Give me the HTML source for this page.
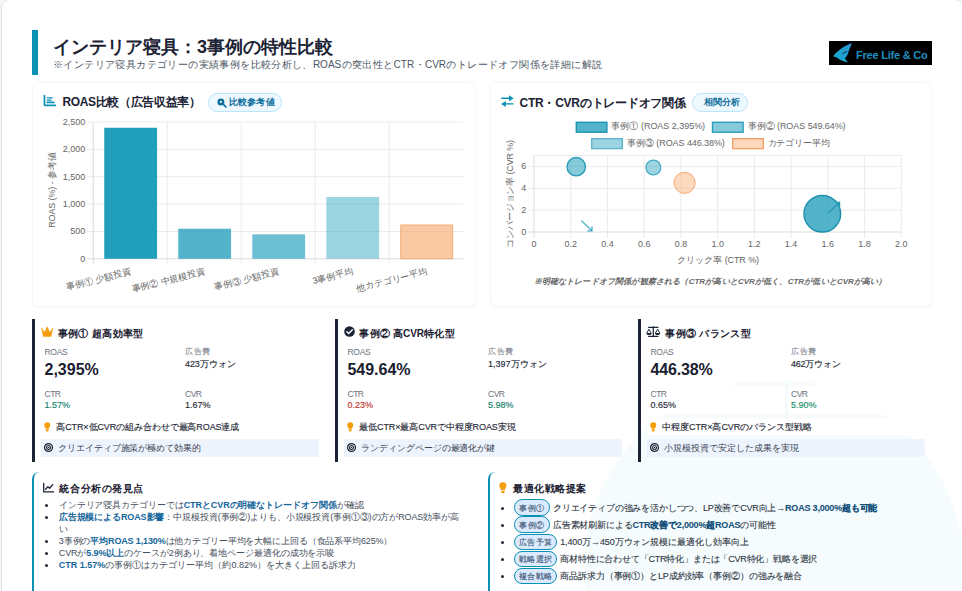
<!DOCTYPE html>
<html lang="ja">
<head>
<meta charset="utf-8">
<title>インテリア寝具：3事例の特性比較</title>
<style>
*{box-sizing:border-box;margin:0;padding:0}
html,body{width:962px;height:591px;overflow:hidden;background:#f7f7f8}
body{font-family:"Liberation Sans",sans-serif;color:#1f2937;position:relative}
.abs{position:absolute}
.t{position:absolute;white-space:nowrap;line-height:1}
.t b{font-weight:700}
#slide{position:absolute;left:1px;top:-1px;width:962.6px;height:600px;background:#fff;border:1px solid #dfe1e5;border-radius:9px}
#deco{position:absolute;left:584px;top:379px;width:380px;height:380px;border-radius:50%;background:#f6fcfd}
.card{position:absolute;top:81.5px;height:225px;background:#fff;border:1px solid #f5f6f7;border-radius:6px;box-shadow:0 1px 2px rgba(0,0,0,.03)}
.badge{position:absolute;height:18.8px;border:1px solid #bae6fd;background:#eef8ff;border-radius:9.4px}
svg{position:absolute;overflow:visible}
.cell{position:absolute;background:#fff;border-radius:3px}
.ibox{position:absolute;background:#eef4fd;border-radius:3px;height:17.6px}
.pill{position:absolute;height:16.6px;border:1.4px solid #0891b2;background:#dbeafe;border-radius:8.3px}
.dot{position:absolute;width:3px;height:3px;border-radius:50%;background:#1f2937}
</style>
</head>
<body>
<div id="slide"></div><div id="deco"></div>
<div class="abs" style="left:32px;top:30px;width:6px;height:44.5px;background:#0891b2"></div>
<div class="t" style="top:37.60px;font-size:18px;height:18px;width:280.00px;text-align:justify;text-align-last:justify;left:53.00px;color:#1a2233;font-weight:700;letter-spacing:-0.031px;">インテリア寝具：3事例の特性比較</div>
<div class="t" style="top:59.90px;font-size:10px;height:10px;width:549.00px;text-align:justify;text-align-last:justify;left:53.00px;color:#4b5563;">※インテリア寝具カテゴリーの実績事例を比較分析し、ROASの突出性とCTR・CVRのトレードオフ関係を詳細に解説</div>
<div class="abs" style="left:829px;top:41px;width:103px;height:24px;background:#000"></div>
<svg style="left:829px;top:41px" width="103" height="24" viewBox="0 0 103 24"><defs><linearGradient id="lg" x1="0" y1="1" x2="1" y2="0"><stop offset="0" stop-color="#10aecb"/><stop offset="1" stop-color="#2f90d4"/></linearGradient></defs><path d="M4.36 15.78C4.8 14 5.6 13 6.64 12.23C8.5 10.4 10.3 8.8 12.23 7.5C14 6.2 15.6 5.3 17.3 4.5C19.2 3.6 21 2.9 22.63 1.82C22.5 3.4 22 4.8 21.37 6.14C20.8 7.6 20.2 8.9 19.59 10.2C19.4 11.6 19 13 18.32 14.26C17.7 15.4 16.9 16.4 15.88 17.3L18.93 21.47C16.5 21.2 14.2 20.4 12.23 19.33C10.7 18.6 9.4 17.7 8.17 16.7C7.2 16 6.2 15.7 5.12 15.68Z" fill="url(#lg)"/><path d="M13.6 12.6L17.6 10.4" stroke="#000" stroke-width="0.7" stroke-linecap="round"/></svg>
<div class="t" style="top:49.80px;font-size:11px;height:11px;left:856.00px;color:#1f8fc0;font-weight:700;letter-spacing:-0.214px;">Free Life &amp; Co</div>
<div class="card" style="left:32px;width:443.5px"></div>
<div class="card" style="left:489.5px;width:442.5px"></div>
<svg style="left:42.8px;top:95.1px" width="13" height="12" viewBox="0 0 13 12"><path d="M1.45 0.6V9.4Q1.45 10.4 2.45 10.4H12.3" fill="none" stroke="#0891b2" stroke-width="1.7" stroke-linecap="round" stroke-linejoin="round"/><path d="M4.2 2.8H9.3M4.2 5.05H8.1" fill="none" stroke="#0891b2" stroke-width="1.15" stroke-linecap="round"/><path d="M4.3 7.4H10.8" fill="none" stroke="#0891b2" stroke-width="1.7" stroke-linecap="round"/></svg>
<div class="t" style="top:96.40px;font-size:12px;height:12px;width:138.00px;text-align:justify;text-align-last:justify;left:62.50px;color:#1a2233;font-weight:700;letter-spacing:-0.423px;">ROAS比較（広告収益率）</div>
<div class="badge" style="left:207.5px;top:92.9px;width:74.6px"></div>
<svg style="left:216.6px;top:97.8px" width="10" height="10" viewBox="0 0 10 10"><circle cx="3.9" cy="3.9" r="3.5" fill="#0e6f9c"/><circle cx="3.9" cy="3.9" r="1.1" fill="#d8ecf8"/><path d="M6.4 6.4L9 9" stroke="#0e6f9c" stroke-width="1.7" stroke-linecap="round"/></svg>
<div class="t" style="top:98.00px;font-size:9px;height:9px;width:45.20px;text-align:justify;text-align-last:justify;left:229.30px;color:#0e6f9c;font-weight:700;letter-spacing:-0.060px;">比較参考値</div>
<svg style="left:0;top:0" width="962" height="591" viewBox="0 0 962 591"><path d="M87.20 258.80H463.30" stroke="#d4d4d4" stroke-width="0.8"/><path d="M87.20 231.44H463.30" stroke="#e6e6e6" stroke-width="0.8"/><path d="M87.20 204.08H463.30" stroke="#e6e6e6" stroke-width="0.8"/><path d="M87.20 176.72H463.30" stroke="#e6e6e6" stroke-width="0.8"/><path d="M87.20 149.36H463.30" stroke="#e6e6e6" stroke-width="0.8"/><path d="M87.20 122.00H463.30" stroke="#e6e6e6" stroke-width="0.8"/><path d="M93.20 122.00V264.80" stroke="#d4d4d4" stroke-width="0.8"/><path d="M167.22 122.00V264.80" stroke="#e6e6e6" stroke-width="0.8"/><path d="M241.24 122.00V264.80" stroke="#e6e6e6" stroke-width="0.8"/><path d="M315.26 122.00V264.80" stroke="#e6e6e6" stroke-width="0.8"/><path d="M389.28 122.00V264.80" stroke="#e6e6e6" stroke-width="0.8"/><rect x="104.26" y="127.75" width="52.80" height="131.05" fill="rgba(33,158,188,1)"/><rect x="178.28" y="228.72" width="52.80" height="30.08" fill="rgba(33,158,188,0.78)"/><rect x="252.30" y="234.37" width="52.80" height="24.43" fill="rgba(33,158,188,0.66)"/><rect x="326.32" y="196.97" width="52.80" height="61.83" fill="rgba(33,158,188,0.44)"/><rect x="400.74" y="225.00" width="52.00" height="33.80" fill="rgba(244,162,97,0.58)" stroke="#f4a261" stroke-width="0.8"/></svg>
<div class="t" style="top:254.70px;font-size:9px;height:9px;right:876.70px;color:#666666;">0</div>
<div class="t" style="top:227.34px;font-size:9px;height:9px;right:876.70px;color:#666666;">500</div>
<div class="t" style="top:199.98px;font-size:9px;height:9px;right:876.70px;color:#666666;">1,000</div>
<div class="t" style="top:172.62px;font-size:9px;height:9px;right:876.70px;color:#666666;">1,500</div>
<div class="t" style="top:145.26px;font-size:9px;height:9px;right:876.70px;color:#666666;">2,000</div>
<div class="t" style="top:117.90px;font-size:9px;height:9px;right:876.70px;color:#666666;">2,500</div>
<div class="abs" style="left:52px;top:190.4px;width:0;height:0;transform:rotate(-90deg)"><div class="t" style="top:-4.50px;font-size:9px;height:9px;width:75.70px;text-align:justify;text-align-last:justify;left:-37.85px;color:#666666;letter-spacing:-0.129px;">ROAS (%) - 参考値</div></div>
<div class="abs" style="left:131.21px;top:270.50px;width:0;height:0;transform:rotate(-14.2deg)"><div class="t" style="right:0;top:-4.5px;font-size:9px;height:9px;color:#666666;width:66.5px;text-align:justify;text-align-last:justify">事例① 少額投資</div></div>
<div class="abs" style="left:205.23px;top:270.50px;width:0;height:0;transform:rotate(-14.2deg)"><div class="t" style="right:0;top:-4.5px;font-size:9px;height:9px;color:#666666;width:75.5px;text-align:justify;text-align-last:justify">事例② 中規模投資</div></div>
<div class="abs" style="left:279.25px;top:270.50px;width:0;height:0;transform:rotate(-14.2deg)"><div class="t" style="right:0;top:-4.5px;font-size:9px;height:9px;color:#666666;width:66.5px;text-align:justify;text-align-last:justify">事例③ 少額投資</div></div>
<div class="abs" style="left:353.27px;top:270.50px;width:0;height:0;transform:rotate(-14.2deg)"><div class="t" style="right:0;top:-4.5px;font-size:9px;height:9px;color:#666666;width:41.5px;text-align:justify;text-align-last:justify">3事例平均</div></div>
<div class="abs" style="left:427.29px;top:270.50px;width:0;height:0;transform:rotate(-14.2deg)"><div class="t" style="right:0;top:-4.5px;font-size:9px;height:9px;color:#666666;width:72.5px;text-align:justify;text-align-last:justify">他カテゴリー平均</div></div>
<svg style="left:501.3px;top:95.3px" width="13" height="12.2" viewBox="0 0 13 12.2"><path d="M0.3 3.2H9.5M3.5 8.9H12.5" stroke="#0891b2" stroke-width="1.4" fill="none"/><path d="M8 0.2L12.7 3.2L8 6.2Z" fill="#0891b2"/><path d="M4.8 5.9L0.1 8.9L4.8 11.9Z" fill="#0891b2"/></svg>
<div class="t" style="top:96.60px;font-size:12px;height:12px;width:166.00px;text-align:justify;text-align-last:justify;left:519.60px;color:#1a2233;font-weight:700;letter-spacing:-0.281px;">CTR・CVRのトレードオフ関係</div>
<div class="badge" style="left:692px;top:92.9px;width:56px"></div>
<div class="t" style="top:98.10px;font-size:9px;height:9px;width:36.20px;text-align:justify;text-align-last:justify;left:704.10px;color:#0e6f9c;font-weight:700;letter-spacing:-0.075px;">相関分析</div>
<svg style="left:0;top:0" width="962" height="591" viewBox="0 0 962 591"><path d="M534.00 155.50V238.00" stroke="#d4d4d4" stroke-width="0.8"/><path d="M570.73 155.50V238.00" stroke="#e6e6e6" stroke-width="0.8"/><path d="M607.46 155.50V238.00" stroke="#e6e6e6" stroke-width="0.8"/><path d="M644.19 155.50V238.00" stroke="#e6e6e6" stroke-width="0.8"/><path d="M680.92 155.50V238.00" stroke="#e6e6e6" stroke-width="0.8"/><path d="M717.65 155.50V238.00" stroke="#e6e6e6" stroke-width="0.8"/><path d="M754.38 155.50V238.00" stroke="#e6e6e6" stroke-width="0.8"/><path d="M791.11 155.50V238.00" stroke="#e6e6e6" stroke-width="0.8"/><path d="M827.84 155.50V238.00" stroke="#e6e6e6" stroke-width="0.8"/><path d="M864.57 155.50V238.00" stroke="#e6e6e6" stroke-width="0.8"/><path d="M901.30 155.50V238.00" stroke="#e6e6e6" stroke-width="0.8"/><path d="M528.00 232.00H901.30" stroke="#d4d4d4" stroke-width="0.8"/><path d="M528.00 210.14H901.30" stroke="#e6e6e6" stroke-width="0.8"/><path d="M528.00 188.29H901.30" stroke="#e6e6e6" stroke-width="0.8"/><path d="M528.00 166.43H901.30" stroke="#e6e6e6" stroke-width="0.8"/><path d="M534.00 155.50H901.30" stroke="#e6e6e6" stroke-width="0.8"/><circle cx="822.33" cy="213.75" r="18.3" fill="rgba(33,158,188,0.78)" stroke="#1b8fae" stroke-width="1.4"/><circle cx="576.24" cy="166.65" r="9.2" fill="rgba(33,158,188,0.55)" stroke="#2a9cb9" stroke-width="1.4"/><circle cx="653.37" cy="167.52" r="7.4" fill="rgba(33,158,188,0.44)" stroke="#45abc5" stroke-width="1.3"/><circle cx="684.59" cy="182.82" r="10.6" fill="rgba(250,170,110,0.45)" stroke="#f4a06a" stroke-width="0.9"/><path d="M581.3 220.6L592 230.8M592 226.2V230.8H587.4" stroke="#3fa9c4" stroke-width="1.2" fill="none"/><path d="M828.3 213L838.6 203.3" stroke="#2596b4" stroke-width="1.2" fill="none"/><path d="M835 201.8H840.2V207Z" fill="#2596b4"/><rect x="576.30" y="122.30" width="30.6" height="9.9" fill="rgba(33,158,188,0.78)" stroke="#1e95b3" stroke-width="1.4"/><rect x="712.50" y="122.30" width="30.6" height="9.9" fill="rgba(33,158,188,0.55)" stroke="#2a9cb9" stroke-width="1.4"/><rect x="591.70" y="138.70" width="30.6" height="9.9" fill="rgba(33,158,188,0.44)" stroke="#5fb6cd" stroke-width="1.4"/><rect x="732.70" y="138.70" width="30.6" height="9.9" fill="rgba(250,170,110,0.45)" stroke="#f4a06a" stroke-width="1.4"/></svg>
<div class="t" style="top:122.40px;font-size:9px;height:9px;width:93.80px;text-align:justify;text-align-last:justify;left:611.30px;color:#666666;letter-spacing:-0.041px;">事例① (ROAS 2,395%)</div>
<div class="t" style="top:122.40px;font-size:9px;height:9px;width:98.00px;text-align:justify;text-align-last:justify;left:747.50px;color:#666666;letter-spacing:-0.083px;">事例② (ROAS 549.64%)</div>
<div class="t" style="top:138.80px;font-size:9px;height:9px;width:98.00px;text-align:justify;text-align-last:justify;left:626.80px;color:#666666;letter-spacing:-0.083px;">事例③ (ROAS 446.38%)</div>
<div class="t" style="top:138.80px;font-size:9px;height:9px;width:62.50px;text-align:justify;text-align-last:justify;left:767.50px;color:#666666;letter-spacing:-0.143px;">カテゴリー平均</div>
<div class="t" style="top:227.90px;font-size:9px;height:9px;right:435.70px;color:#666666;">0</div>
<div class="t" style="top:206.04px;font-size:9px;height:9px;right:435.70px;color:#666666;">2</div>
<div class="t" style="top:184.19px;font-size:9px;height:9px;right:435.70px;color:#666666;">4</div>
<div class="t" style="top:162.33px;font-size:9px;height:9px;right:435.70px;color:#666666;">6</div>
<div class="t" style="top:240.40px;font-size:9px;height:9px;left:334.00px;width:400px;text-align:center;color:#666666;">0</div>
<div class="t" style="top:240.40px;font-size:9px;height:9px;left:370.73px;width:400px;text-align:center;color:#666666;">0.2</div>
<div class="t" style="top:240.40px;font-size:9px;height:9px;left:407.46px;width:400px;text-align:center;color:#666666;">0.4</div>
<div class="t" style="top:240.40px;font-size:9px;height:9px;left:444.19px;width:400px;text-align:center;color:#666666;">0.6</div>
<div class="t" style="top:240.40px;font-size:9px;height:9px;left:480.92px;width:400px;text-align:center;color:#666666;">0.8</div>
<div class="t" style="top:240.40px;font-size:9px;height:9px;left:517.65px;width:400px;text-align:center;color:#666666;">1.0</div>
<div class="t" style="top:240.40px;font-size:9px;height:9px;left:554.38px;width:400px;text-align:center;color:#666666;">1.2</div>
<div class="t" style="top:240.40px;font-size:9px;height:9px;left:591.11px;width:400px;text-align:center;color:#666666;">1.4</div>
<div class="t" style="top:240.40px;font-size:9px;height:9px;left:627.84px;width:400px;text-align:center;color:#666666;">1.6</div>
<div class="t" style="top:240.40px;font-size:9px;height:9px;left:664.57px;width:400px;text-align:center;color:#666666;">1.8</div>
<div class="t" style="top:240.40px;font-size:9px;height:9px;left:701.30px;width:400px;text-align:center;color:#666666;">2.0</div>
<div class="t" style="top:256.30px;font-size:9px;height:9px;width:82.00px;text-align:justify;text-align-last:justify;left:677.00px;color:#666666;letter-spacing:-0.115px;">クリック率 (CTR %)</div>
<div class="abs" style="left:509.8px;top:193.6px;width:0;height:0;transform:rotate(-90deg)"><div class="t" style="top:-4.50px;font-size:9px;height:9px;width:107.60px;text-align:justify;text-align-last:justify;left:-53.80px;color:#666666;letter-spacing:-0.181px;">コンバージョン率 (CVR %)</div></div>
<div class="t" style="top:278.30px;font-size:8px;height:8px;width:353.00px;text-align:justify;text-align-last:justify;left:533.50px;color:#666;font-weight:700;font-style:italic;">※明確なトレードオフ関係が観察される（CTRが高いとCVRが低く、CTRが低いとCVRが高い）</div>
<div class="abs" style="left:32px;top:319.2px;width:3px;height:143.3px;background:#1b2435"></div>
<div class="cell" style="left:41.25px;top:343.5px;width:137.5px;height:38.5px"></div>
<div class="cell" style="left:181.75px;top:343.5px;width:137.5px;height:38.5px"></div>
<div class="cell" style="left:41.25px;top:385px;width:137.5px;height:29.5px"></div>
<div class="cell" style="left:181.75px;top:385px;width:137.5px;height:29.5px"></div>
<div class="cell" style="left:41.25px;top:417.5px;width:278px;height:17.5px"></div>
<svg style="left:40.70px;top:327.10px" width="12.4" height="9.8" viewBox="0 0 12.4 9.8"><path d="M0.9 2.6L2.3 9.5H10.1L11.5 2.6L8.5 4.9L6.9 1.2H5.5L3.9 4.9Z" fill="#f59e0b" stroke="#f59e0b" stroke-width=".5" stroke-linejoin="round"/><circle cx="0.9" cy="2.1" r=".85" fill="#f59e0b"/><circle cx="6.2" cy="0.95" r=".9" fill="#f59e0b"/><circle cx="11.5" cy="2.1" r=".85" fill="#f59e0b"/></svg>
<div class="t" style="top:328.70px;font-size:10px;height:10px;width:85.70px;text-align:justify;text-align-last:justify;left:57.70px;color:#1a2030;font-weight:700;">事例① 超高効率型</div>
<div class="t" style="top:347.90px;font-size:8.6px;height:8.6px;left:44.50px;color:#6b7280;letter-spacing:-0.375px;">ROAS</div>
<div class="t" style="top:361.60px;font-size:16px;height:16px;left:44.50px;color:#1a2030;font-weight:700;">2,395%</div>
<div class="t" style="top:348.20px;font-size:8px;height:8px;width:25.00px;text-align:justify;text-align-last:justify;left:185.00px;color:#6b7280;">広告費</div>
<div class="t" style="top:359.70px;font-size:9px;height:9px;width:51.00px;text-align:justify;text-align-last:justify;left:185.00px;color:#1f2937;letter-spacing:-0.071px;-webkit-text-stroke:0.14px currentColor;">423万ウォン</div>
<div class="t" style="top:389.60px;font-size:8.6px;height:8.6px;left:44.50px;color:#6b7280;letter-spacing:-0.567px;">CTR</div>
<div class="t" style="top:401.40px;font-size:9px;height:9px;left:44.50px;color:#12806f;-webkit-text-stroke:0.14px currentColor;">1.57%</div>
<div class="t" style="top:389.60px;font-size:8.6px;height:8.6px;left:185.00px;color:#6b7280;letter-spacing:-0.567px;">CVR</div>
<div class="t" style="top:401.40px;font-size:9px;height:9px;left:185.00px;color:#1f2937;-webkit-text-stroke:0.14px currentColor;">1.67%</div>
<svg style="left:43.90px;top:421.80px" width="6.48" height="9.72" viewBox="0 0 6 9"><path d="M3 0.2A2.8 2.8 0 0 0 0.2 3C0.2 4.3 1.2 4.9 1.5 6.2H4.5C4.8 4.9 5.8 4.3 5.8 3A2.8 2.8 0 0 0 3 0.2Z" fill="#f59e0b"/><path d="M1.6 6.8H4.4V7.6C4.4 8.3 3.8 8.8 3 8.8C2.2 8.8 1.6 8.3 1.6 7.6Z" fill="#f59e0b"/></svg>
<div class="t" style="top:422.80px;font-size:9px;height:9px;width:183.00px;text-align:justify;text-align-last:justify;left:56.25px;color:#1f2937;letter-spacing:-0.104px;-webkit-text-stroke:0.14px currentColor;">高CTR×低CVRの組み合わせで最高ROAS達成</div>
<div class="ibox" style="left:41.25px;top:439.3px;width:278.2px"></div>
<svg style="left:44.20px;top:443.40px" width="9" height="9" viewBox="0 0 9 9"><circle cx="4.5" cy="4.5" r="3.95" fill="none" stroke="#1b2435" stroke-width="1.25"/><circle cx="4.5" cy="4.5" r="1.95" fill="none" stroke="#1b2435" stroke-width="1.1"/><circle cx="4.5" cy="4.5" r=".75" fill="#1b2435"/></svg>
<div class="t" style="top:443.50px;font-size:9px;height:9px;width:142.50px;text-align:justify;text-align-last:justify;left:58.20px;color:#374151;letter-spacing:-0.125px;">クリエイティブ施策が極めて効果的</div>
<div class="abs" style="left:335px;top:319.2px;width:3px;height:143.3px;background:#1b2435"></div>
<div class="cell" style="left:344.25px;top:343.5px;width:137.5px;height:38.5px"></div>
<div class="cell" style="left:484.75px;top:343.5px;width:137.5px;height:38.5px"></div>
<div class="cell" style="left:344.25px;top:385px;width:137.5px;height:29.5px"></div>
<div class="cell" style="left:484.75px;top:385px;width:137.5px;height:29.5px"></div>
<div class="cell" style="left:344.25px;top:417.5px;width:278px;height:17.5px"></div>
<svg style="left:343.90px;top:326.30px" width="11" height="11" viewBox="0 0 11 11"><circle cx="5.5" cy="5.5" r="5.3" fill="#1b2435"/><path d="M2.9 5.7L4.7 7.5L8.2 3.9" stroke="#fff" stroke-width="1.5" fill="none" stroke-linecap="round" stroke-linejoin="round"/></svg>
<div class="t" style="top:328.70px;font-size:10px;height:10px;width:95.20px;text-align:justify;text-align-last:justify;left:359.40px;color:#1a2030;font-weight:700;">事例② 高CVR特化型</div>
<div class="t" style="top:347.90px;font-size:8.6px;height:8.6px;left:347.50px;color:#6b7280;letter-spacing:-0.375px;">ROAS</div>
<div class="t" style="top:361.60px;font-size:16px;height:16px;left:347.50px;color:#1a2030;font-weight:700;letter-spacing:-0.029px;">549.64%</div>
<div class="t" style="top:348.20px;font-size:8px;height:8px;width:25.00px;text-align:justify;text-align-last:justify;left:488.00px;color:#6b7280;">広告費</div>
<div class="t" style="top:359.70px;font-size:9px;height:9px;width:59.20px;text-align:justify;text-align-last:justify;left:488.00px;color:#1f2937;letter-spacing:-0.033px;-webkit-text-stroke:0.14px currentColor;">1,397万ウォン</div>
<div class="t" style="top:389.60px;font-size:8.6px;height:8.6px;left:347.50px;color:#6b7280;letter-spacing:-0.567px;">CTR</div>
<div class="t" style="top:401.40px;font-size:9px;height:9px;left:347.50px;color:#c0342c;-webkit-text-stroke:0.14px currentColor;">0.23%</div>
<div class="t" style="top:389.60px;font-size:8.6px;height:8.6px;left:488.00px;color:#6b7280;letter-spacing:-0.567px;">CVR</div>
<div class="t" style="top:401.40px;font-size:9px;height:9px;left:488.00px;color:#15806a;-webkit-text-stroke:0.14px currentColor;">5.98%</div>
<svg style="left:346.90px;top:421.80px" width="6.48" height="9.72" viewBox="0 0 6 9"><path d="M3 0.2A2.8 2.8 0 0 0 0.2 3C0.2 4.3 1.2 4.9 1.5 6.2H4.5C4.8 4.9 5.8 4.3 5.8 3A2.8 2.8 0 0 0 3 0.2Z" fill="#f59e0b"/><path d="M1.6 6.8H4.4V7.6C4.4 8.3 3.8 8.8 3 8.8C2.2 8.8 1.6 8.3 1.6 7.6Z" fill="#f59e0b"/></svg>
<div class="t" style="top:422.80px;font-size:9px;height:9px;width:156.30px;text-align:justify;text-align-last:justify;left:359.25px;color:#1f2937;letter-spacing:-0.105px;-webkit-text-stroke:0.14px currentColor;">最低CTR×最高CVRで中程度ROAS実現</div>
<div class="ibox" style="left:344.25px;top:439.3px;width:278.2px"></div>
<svg style="left:347.20px;top:443.40px" width="9" height="9" viewBox="0 0 9 9"><circle cx="4.5" cy="4.5" r="3.95" fill="none" stroke="#1b2435" stroke-width="1.25"/><circle cx="4.5" cy="4.5" r="1.95" fill="none" stroke="#1b2435" stroke-width="1.1"/><circle cx="4.5" cy="4.5" r=".75" fill="#1b2435"/></svg>
<div class="t" style="top:443.50px;font-size:9px;height:9px;width:134.00px;text-align:justify;text-align-last:justify;left:361.20px;color:#374151;letter-spacing:-0.100px;">ランディングページの最適化が鍵</div>
<div class="abs" style="left:638px;top:319.2px;width:3px;height:143.3px;background:#1b2435"></div>
<div class="cell" style="left:647.25px;top:343.5px;width:137.5px;height:38.5px"></div>
<div class="cell" style="left:787.75px;top:343.5px;width:137.5px;height:38.5px"></div>
<div class="cell" style="left:647.25px;top:385px;width:137.5px;height:29.5px"></div>
<div class="cell" style="left:787.75px;top:385px;width:137.5px;height:29.5px"></div>
<div class="cell" style="left:647.25px;top:417.5px;width:278px;height:17.5px"></div>
<svg style="left:646.00px;top:326.00px" width="14.4" height="11.2" viewBox="0 0 14.4 11.2"><path d="M7.3 0.6V10.2M2.7 10.5H11.9M2.7 1.5H11.9" stroke="#1b2435" stroke-width="1.25" fill="none" stroke-linecap="round"/><path d="M0.9 7L3.0 3.2L5.1 7M9.5 7L11.6 3.2L13.7 7" stroke="#1b2435" stroke-width="1.0" fill="none" stroke-linejoin="round"/><path d="M0.3 6.9H5.7C5.7 8.2 4.5 9 3 9C1.5 9 0.3 8.2 0.3 6.9ZM8.9 6.9H14.3C14.3 8.2 13.1 9 11.6 9C10.1 9 8.9 8.2 8.9 6.9Z" fill="#1b2435"/></svg>
<div class="t" style="top:328.70px;font-size:10px;height:10px;width:85.50px;text-align:justify;text-align-last:justify;left:665.30px;color:#1a2030;font-weight:700;">事例③ バランス型</div>
<div class="t" style="top:347.90px;font-size:8.6px;height:8.6px;left:650.50px;color:#6b7280;letter-spacing:-0.375px;">ROAS</div>
<div class="t" style="top:361.60px;font-size:16px;height:16px;left:650.50px;color:#1a2030;font-weight:700;letter-spacing:-0.143px;">446.38%</div>
<div class="t" style="top:348.20px;font-size:8px;height:8px;width:25.00px;text-align:justify;text-align-last:justify;left:791.00px;color:#6b7280;">広告費</div>
<div class="t" style="top:359.70px;font-size:9px;height:9px;width:50.00px;text-align:justify;text-align-last:justify;left:791.00px;color:#1f2937;letter-spacing:-0.214px;-webkit-text-stroke:0.14px currentColor;">462万ウォン</div>
<div class="t" style="top:389.60px;font-size:8.6px;height:8.6px;left:650.50px;color:#6b7280;letter-spacing:-0.567px;">CTR</div>
<div class="t" style="top:401.40px;font-size:9px;height:9px;left:650.50px;color:#1f2937;-webkit-text-stroke:0.14px currentColor;">0.65%</div>
<div class="t" style="top:389.60px;font-size:8.6px;height:8.6px;left:791.00px;color:#6b7280;letter-spacing:-0.567px;">CVR</div>
<div class="t" style="top:401.40px;font-size:9px;height:9px;left:791.00px;color:#15906a;-webkit-text-stroke:0.14px currentColor;">5.90%</div>
<svg style="left:649.90px;top:421.80px" width="6.48" height="9.72" viewBox="0 0 6 9"><path d="M3 0.2A2.8 2.8 0 0 0 0.2 3C0.2 4.3 1.2 4.9 1.5 6.2H4.5C4.8 4.9 5.8 4.3 5.8 3A2.8 2.8 0 0 0 3 0.2Z" fill="#f59e0b"/><path d="M1.6 6.8H4.4V7.6C4.4 8.3 3.8 8.8 3 8.8C2.2 8.8 1.6 8.3 1.6 7.6Z" fill="#f59e0b"/></svg>
<div class="t" style="top:422.80px;font-size:9px;height:9px;width:149.40px;text-align:justify;text-align-last:justify;left:662.25px;color:#1f2937;letter-spacing:-0.111px;-webkit-text-stroke:0.14px currentColor;">中程度CTR×高CVRのバランス型戦略</div>
<div class="ibox" style="left:647.25px;top:439.3px;width:278.2px"></div>
<svg style="left:650.20px;top:443.40px" width="9" height="9" viewBox="0 0 9 9"><circle cx="4.5" cy="4.5" r="3.95" fill="none" stroke="#1b2435" stroke-width="1.25"/><circle cx="4.5" cy="4.5" r="1.95" fill="none" stroke="#1b2435" stroke-width="1.1"/><circle cx="4.5" cy="4.5" r=".75" fill="#1b2435"/></svg>
<div class="t" style="top:443.50px;font-size:9px;height:9px;width:135.00px;text-align:justify;text-align-last:justify;left:664.20px;color:#374151;letter-spacing:-0.033px;">小規模投資で安定した成果を実現</div>
<div class="abs" style="left:32px;top:471.8px;width:60px;height:125px;border-left:2.3px solid #0891b2;border-radius:7px"></div>
<div class="abs" style="left:488.4px;top:471.8px;width:60px;height:125px;border-left:2.3px solid #0891b2;border-radius:7px"></div>
<svg style="left:43px;top:483.4px" width="11" height="10" viewBox="0 0 11 10"><path d="M0.7 0.4V8.9H10.6" fill="none" stroke="#1b2435" stroke-width="1.3" stroke-linecap="round" stroke-linejoin="round"/><path d="M2.6 6.2L4.9 3.6L6.6 5.2L9.8 1.6" fill="none" stroke="#1b2435" stroke-width="1.3" stroke-linecap="round" stroke-linejoin="round"/></svg>
<div class="t" style="top:484.20px;font-size:10px;height:10px;width:84.00px;text-align:justify;text-align-last:justify;left:59.40px;color:#1a2030;font-weight:700;">統合分析の発見点</div>
<div class="dot" style="left:45.1px;top:503.90px"></div>
<div class="t" style="top:500.70px;font-size:9px;height:9px;width:304.70px;text-align:justify;text-align-last:justify;left:58.75px;color:#444d5b;letter-spacing:-0.106px;">インテリア寝具カテゴリーでは<b style="color:#15669a">CTRとCVRの明確なトレードオフ関係</b>が確認</div>
<div class="dot" style="left:45.1px;top:515.70px"></div>
<div class="t" style="top:512.50px;font-size:9px;height:9px;width:400.00px;text-align:justify;text-align-last:justify;left:58.75px;color:#444d5b;letter-spacing:-0.130px;"><b style="color:#15669a">広告規模によるROAS影響</b>：中規模投資(事例②)よりも、小規模投資(事例①③)の方がROAS効率が高</div>
<div class="t" style="top:524.50px;font-size:9px;height:9px;left:58.75px;color:#444d5b;">い</div>
<div class="dot" style="left:45.1px;top:540.00px"></div>
<div class="t" style="top:536.80px;font-size:9px;height:9px;width:333.50px;text-align:justify;text-align-last:justify;left:58.75px;color:#444d5b;letter-spacing:-0.136px;">3事例の<b style="color:#15669a">平均ROAS 1,130%</b>は他カテゴリー平均を大幅に上回る（食品系平均625%）</div>
<div class="dot" style="left:45.1px;top:551.90px"></div>
<div class="t" style="top:548.70px;font-size:9px;height:9px;width:275.40px;text-align:justify;text-align-last:justify;left:58.75px;color:#444d5b;letter-spacing:-0.121px;">CVRが<b style="color:#15669a">5.9%以上</b>のケースが2例あり、着地ページ最適化の成功を示唆</div>
<div class="dot" style="left:45.1px;top:563.90px"></div>
<div class="t" style="top:560.70px;font-size:9px;height:9px;width:297.40px;text-align:justify;text-align-last:justify;left:58.75px;color:#444d5b;"><b style="color:#15669a">CTR 1.57%</b>の事例①はカテゴリー平均（約0.82%）を大きく上回る訴求力</div>
<svg style="left:499.00px;top:481.80px" width="7.74" height="11.61" viewBox="0 0 6 9"><path d="M3 0.2A2.8 2.8 0 0 0 0.2 3C0.2 4.3 1.2 4.9 1.5 6.2H4.5C4.8 4.9 5.8 4.3 5.8 3A2.8 2.8 0 0 0 3 0.2Z" fill="#f59e0b"/><path d="M1.6 6.8H4.4V7.6C4.4 8.3 3.8 8.8 3 8.8C2.2 8.8 1.6 8.3 1.6 7.6Z" fill="#f59e0b"/></svg>
<div class="t" style="top:484.20px;font-size:10px;height:10px;width:73.30px;text-align:justify;text-align-last:justify;left:513.00px;color:#1a2030;font-weight:700;">最適化戦略提案</div>
<div class="dot" style="left:501px;top:506.90px"></div>
<div class="pill" style="left:513.8px;top:499.40px;width:36.2px"></div>
<div class="t" style="top:504.50px;font-size:8px;height:8px;width:25.00px;text-align:justify;text-align-last:justify;left:519.40px;color:#3f5a78;-webkit-text-stroke:0.14px currentColor;">事例①</div>
<div class="t" style="top:503.70px;font-size:9px;height:9px;width:324.30px;text-align:justify;text-align-last:justify;left:553.00px;color:#2b3442;letter-spacing:-0.191px;-webkit-text-stroke:0.1px currentColor;">クリエイティブの強みを活かしつつ、LP改善でCVR向上→<b style="color:#14507a">ROAS 3,000%超も可能</b></div>
<div class="dot" style="left:501px;top:523.90px"></div>
<div class="pill" style="left:513.8px;top:516.40px;width:36.2px"></div>
<div class="t" style="top:521.50px;font-size:8px;height:8px;width:25.00px;text-align:justify;text-align-last:justify;left:519.40px;color:#3f5a78;-webkit-text-stroke:0.14px currentColor;">事例②</div>
<div class="t" style="top:520.70px;font-size:9px;height:9px;width:222.60px;text-align:justify;text-align-last:justify;left:553.00px;color:#2b3442;letter-spacing:-0.197px;-webkit-text-stroke:0.1px currentColor;">広告素材刷新による<b style="color:#14507a">CTR改善で2,000%超ROAS</b>の可能性</div>
<div class="dot" style="left:501px;top:541.00px"></div>
<div class="pill" style="left:513.8px;top:533.50px;width:43.4px"></div>
<div class="t" style="top:538.60px;font-size:8px;height:8px;width:33.20px;text-align:justify;text-align-last:justify;left:518.90px;color:#3f5a78;-webkit-text-stroke:0.14px currentColor;">広告予算</div>
<div class="t" style="top:537.80px;font-size:9px;height:9px;width:188.30px;text-align:justify;text-align-last:justify;left:560.20px;color:#2b3442;letter-spacing:-0.128px;-webkit-text-stroke:0.1px currentColor;">1,400万→450万ウォン規模に最適化し効率向上</div>
<div class="dot" style="left:501px;top:558.00px"></div>
<div class="pill" style="left:513.8px;top:550.50px;width:43.4px"></div>
<div class="t" style="top:555.60px;font-size:8px;height:8px;width:33.20px;text-align:justify;text-align-last:justify;left:518.90px;color:#3f5a78;-webkit-text-stroke:0.14px currentColor;">戦略選択</div>
<div class="t" style="top:554.80px;font-size:9px;height:9px;width:257.00px;text-align:justify;text-align-last:justify;left:560.20px;color:#2b3442;letter-spacing:-0.210px;-webkit-text-stroke:0.1px currentColor;">商材特性に合わせて「CTR特化」または「CVR特化」戦略を選択</div>
<div class="dot" style="left:501px;top:575.20px"></div>
<div class="pill" style="left:513.8px;top:567.70px;width:43.4px"></div>
<div class="t" style="top:572.80px;font-size:8px;height:8px;width:33.20px;text-align:justify;text-align-last:justify;left:518.90px;color:#3f5a78;-webkit-text-stroke:0.14px currentColor;">複合戦略</div>
<div class="t" style="top:572.00px;font-size:9px;height:9px;width:241.90px;text-align:justify;text-align-last:justify;left:560.20px;color:#2b3442;letter-spacing:-0.129px;-webkit-text-stroke:0.1px currentColor;">商品訴求力（事例①）とLP成約効率（事例②）の強みを融合</div>
</body>
</html>
